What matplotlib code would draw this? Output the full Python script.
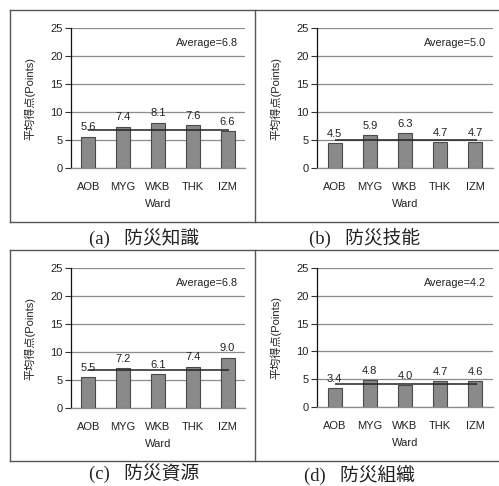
import matplotlib
matplotlib.use("Agg")
import matplotlib.pyplot as plt
from matplotlib.lines import Line2D

plt.rcParams['font.family'] = ['Liberation Sans', 'Noto Sans CJK JP', 'DejaVu Sans']

wards = ["AOB", "MYG", "WKB", "THK", "IZM"]
knowledge = [5.6, 7.4, 8.1, 7.6, 6.6]
skills = [4.5, 5.9, 6.3, 4.7, 4.7]
resources = [5.5, 7.2, 6.1, 7.4, 9.0]
organization = [3.4, 4.8, 4.0, 4.7, 4.6]
averages = [6.8, 5.0, 6.8, 4.2]
captions = ["(a)   防災知識", "(b)   防災技能", "(c)   防災資源", "(d)   防災組織"]
y_ticks = [0, 5, 10, 15, 20, 25]

series = [knowledge, skills, resources, organization]

W, H = 499, 486
fig = plt.figure(figsize=(W / 100, H / 100), dpi=100)


def fx(px):
    return px / W


def fy(py):
    return 1 - py / H


# axes rectangles in pixel coords: (left, top, right, bottom)
rects = [(71, 28, 245, 168), (317, 28, 493, 168),
         (71, 268, 245, 408), (317, 268, 493, 407)]
caption_pos = [(144, 238), (365, 238), (144, 473), (360, 475)]

for vals, avg, cap, (l, t, r, b), (cx, cy) in zip(series, averages, captions, rects, caption_pos):
    ax = fig.add_axes([fx(l), fy(b), fx(r - l), (b - t) / H])
    x = range(len(wards))
    ax.bar(x, vals, width=0.4, color="#8a8a8a", edgecolor="#4a4a4a", linewidth=0.8, zorder=3)
    for xi, v in zip(x, vals):
        ax.annotate(f"{v:.1f}", (xi, v), xytext=(0, 3), textcoords="offset points",
                    ha="center", va="bottom", fontsize=8, color="#222222", zorder=5)
    ax.hlines(avg, 0, 4.05, color="#222222", linewidth=1.1, zorder=4)
    ax.text(0.96, 22.3, f"Average={avg:.1f}", transform=ax.get_yaxis_transform(),
            ha="right", va="center", fontsize=7.8, color="#222222")
    ax.set_xlim(-0.5, 4.5)
    ax.set_ylim(0, 25)
    ax.set_yticks(y_ticks)
    ax.set_xticks(list(x))
    ax.set_xticklabels(wards)
    ax.yaxis.grid(True, color="#8c8c8c", linewidth=0.9, zorder=0)
    ax.set_axisbelow(True)
    for s in ("top", "right"):
        ax.spines[s].set_visible(False)
    ax.spines["left"].set_color("#111111")
    ax.spines["left"].set_linewidth(0.9)
    ax.spines["bottom"].set_color("#8c8c8c")
    ax.spines["bottom"].set_linewidth(0.9)
    ax.tick_params(axis="y", direction="out", length=4, width=0.8, color="#333333",
                   labelsize=8, labelcolor="#222222", pad=2)
    ax.tick_params(axis="x", length=0, labelsize=8, labelcolor="#222222", pad=10)
    ax.set_xlabel("Ward", fontsize=8, color="#222222", labelpad=5)
    ax.set_ylabel("平均得点(Points)", fontsize=8, color="#222222", labelpad=11)
    fig.text(fx(cx), fy(cy), cap, ha="center", va="center", fontsize=13.5,
             family=["Liberation Serif", "Noto Sans CJK JP"], color="#222222")

# table rules around the panels
line_kw = dict(color="#555555", linewidth=1.0, transform=fig.transFigure)
for py in (10, 222, 250, 461):
    fig.add_artist(Line2D([fx(10), fx(499)], [fy(py), fy(py)], **line_kw))
for (top, bot) in ((10, 222), (250, 461)):
    for px in (10, 255):
        fig.add_artist(Line2D([fx(px), fx(px)], [fy(top), fy(bot)], **line_kw))

fig.savefig("out.png", dpi=100)
